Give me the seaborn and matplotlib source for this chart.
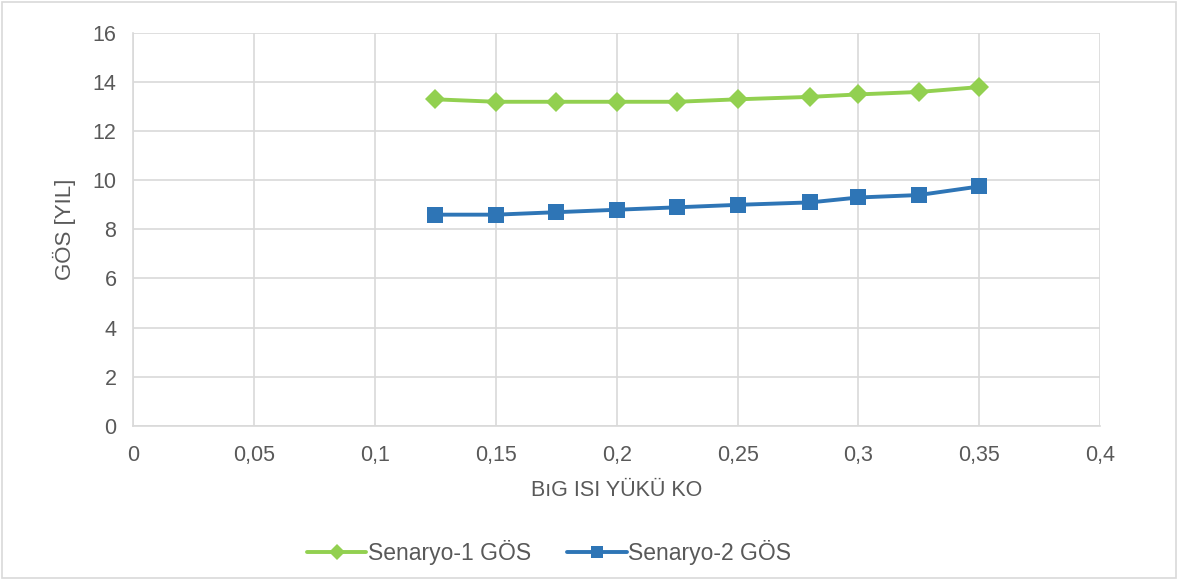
import matplotlib
matplotlib.use("Agg")
import matplotlib.pyplot as plt
import matplotlib.patches as mpatches
import numpy as np
import pandas as pd
import seaborn as sns

# Cooling load ratio values and payback periods for each scenario
load_ratio = [0.125, 0.15, 0.175, 0.2, 0.225, 0.25, 0.28, 0.3, 0.325, 0.35]
senaryo1 = [13.3, 13.2, 13.2, 13.2, 13.2, 13.3, 13.4, 13.5, 13.6, 13.8]
senaryo2 = [8.6, 8.6, 8.7, 8.8, 8.9, 9.0, 9.1, 9.3, 9.4, 9.75]
series_names = ["Senaryo-1 GÖS", "Senaryo-2 GÖS"]
x_ticks = [0, 0.05, 0.1, 0.15, 0.2, 0.25, 0.3, 0.35, 0.4]
x_tick_labels = ["0", "0,05", "0,1", "0,15", "0,2", "0,25", "0,3", "0,35", "0,4"]
y_ticks = [0, 2, 4, 6, 8, 10, 12, 14, 16]

df = pd.DataFrame({
    "x": load_ratio * 2,
    "y": senaryo1 + senaryo2,
    "seri": [series_names[0]] * len(load_ratio) + [series_names[1]] * len(load_ratio),
})

sns.set_theme(style="white")
plt.rcParams["font.family"] = ["Liberation Sans", "DejaVu Sans"]

text_col = "#595959"
grid_col = "#d9d9d9"

fig = plt.figure(figsize=(11.78, 5.80), dpi=100)
ax = fig.add_axes([0.113, 0.266, 0.821, 0.677])

palette = {series_names[0]: "#92d050", series_names[1]: "#2e75b6"}
markers = {series_names[0]: "D", series_names[1]: "s"}
sizes = {series_names[0]: 10, series_names[1]: 11.5}

for name in series_names:
    sub = df[df["seri"] == name]
    sns.lineplot(data=sub, x="x", y="y", ax=ax, color=palette[name],
                 marker=markers[name], markersize=sizes[name],
                 markeredgewidth=0, linewidth=2.8, label=name, zorder=3)

ax.set_xlim(0, 0.4)
ax.set_ylim(0, 16)
ax.set_xticks(x_ticks)
ax.set_xticklabels(x_tick_labels)
ax.set_yticks(y_ticks)
ax.grid(True, color=grid_col, linewidth=1.2)
for side in ["top", "right"]:
    ax.spines[side].set_visible(False)
for side in ["left", "bottom"]:
    ax.spines[side].set_color(grid_col)
    ax.spines[side].set_linewidth(1.2)
ax.tick_params(axis="x", length=0, labelsize=15.5, labelcolor=text_col, pad=14)
ax.tick_params(axis="y", length=0, labelsize=15.5, labelcolor=text_col, pad=12)
ax.set_xlabel("BıG ISI YÜKÜ KO", fontsize=15.5, color=text_col, labelpad=10)
ax.set_ylabel("GÖS [YIL]", fontsize=16, color=text_col, labelpad=12)

leg = ax.legend(loc="center", bbox_to_anchor=(0.466, 0.047), bbox_transform=fig.transFigure,
                ncol=2, frameon=False, fontsize=16.5, handlelength=2.6,
                handletextpad=0.05, columnspacing=1.6, markerscale=0.8)
for t in leg.get_texts():
    t.set_color(text_col)

# light frame around the whole chart area
fig.patches.append(mpatches.Rectangle((0.002, 0.003), 0.996, 0.994, transform=fig.transFigure,
                                      fill=False, edgecolor=grid_col, linewidth=1.2))

fig.savefig("out.png", dpi=100, facecolor="white")
